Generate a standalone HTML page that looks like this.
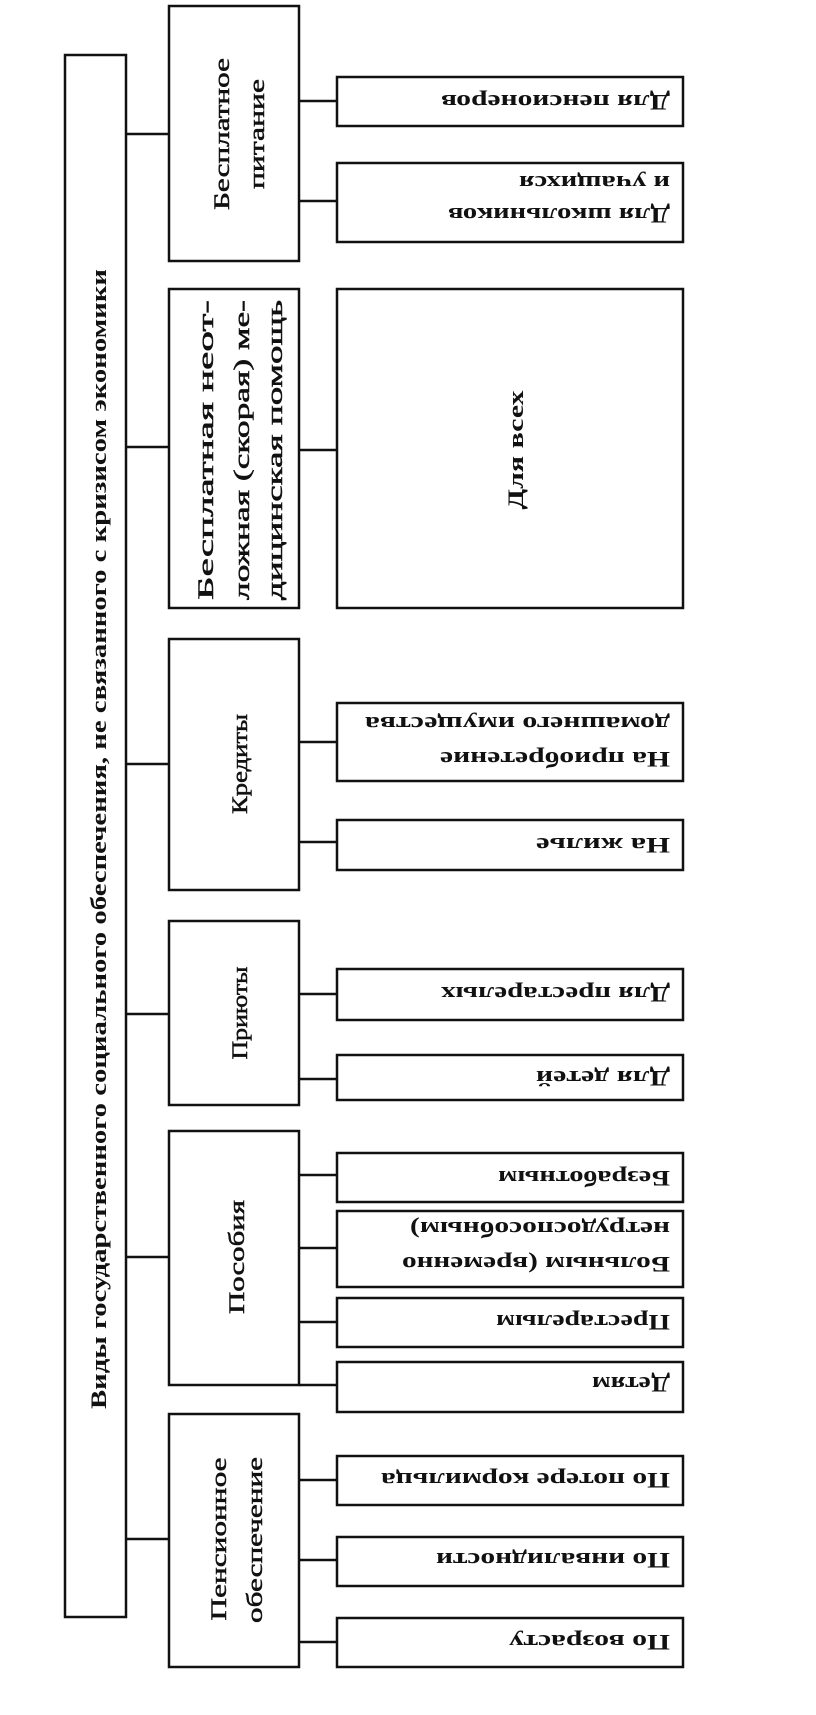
<!DOCTYPE html>
<html><head><meta charset="utf-8"><style>
html,body{margin:0;padding:0;background:#fff;}
svg{display:block;}
text{font-family:"Liberation Serif",serif;fill:#111;}
.b{font-weight:bold;font-size:22px;}
.n{font-size:22px;stroke:#111;stroke-width:0.5;}
</style></head><body>
<svg width="816" height="1715" viewBox="0 0 816 1715" xmlns="http://www.w3.org/2000/svg">
<g fill="none" stroke="#111" stroke-width="2.5">
<rect x="65" y="55" width="61" height="1562"/>
<rect x="169" y="6" width="130" height="255"/>
<rect x="169" y="289" width="130" height="319"/>
<rect x="169" y="639" width="130" height="251"/>
<rect x="169" y="921" width="130" height="184"/>
<rect x="169" y="1131" width="130" height="254"/>
<rect x="169" y="1414" width="130" height="253"/>
<line x1="126" y1="134" x2="169" y2="134"/>
<line x1="126" y1="447" x2="169" y2="447"/>
<line x1="126" y1="764" x2="169" y2="764"/>
<line x1="126" y1="1014" x2="169" y2="1014"/>
<line x1="126" y1="1257" x2="169" y2="1257"/>
<line x1="126" y1="1539" x2="169" y2="1539"/>
<rect x="337" y="77" width="346" height="49"/>
<rect x="337" y="163" width="346" height="79"/>
<rect x="337" y="289" width="346" height="319"/>
<rect x="337" y="703" width="346" height="78"/>
<rect x="337" y="820" width="346" height="50"/>
<rect x="337" y="969" width="346" height="51"/>
<rect x="337" y="1055" width="346" height="45"/>
<rect x="337" y="1153" width="346" height="49"/>
<rect x="337" y="1211" width="346" height="76"/>
<rect x="337" y="1298" width="346" height="49"/>
<rect x="337" y="1362" width="346" height="50"/>
<rect x="337" y="1456" width="346" height="49"/>
<rect x="337" y="1537" width="346" height="49"/>
<rect x="337" y="1618" width="346" height="49"/>
<line x1="299" y1="101" x2="337" y2="101"/>
<line x1="299" y1="201" x2="337" y2="201"/>
<line x1="299" y1="450" x2="337" y2="450"/>
<line x1="299" y1="742" x2="337" y2="742"/>
<line x1="299" y1="842" x2="337" y2="842"/>
<line x1="299" y1="994" x2="337" y2="994"/>
<line x1="299" y1="1079" x2="337" y2="1079"/>
<line x1="299" y1="1175" x2="337" y2="1175"/>
<line x1="299" y1="1248" x2="337" y2="1248"/>
<line x1="299" y1="1322" x2="337" y2="1322"/>
<line x1="299" y1="1385" x2="337" y2="1385"/>
<line x1="299" y1="1480" x2="337" y2="1480"/>
<line x1="299" y1="1560" x2="337" y2="1560"/>
<line x1="299" y1="1642" x2="337" y2="1642"/>
</g>

<text class="b" transform="translate(106,839) rotate(-90)" text-anchor="middle" textLength="1140" lengthAdjust="spacingAndGlyphs">Виды государственного социального обеспечения, не связанного с кризисом экономики</text>

<text class="n" transform="translate(229,134) rotate(-90)" text-anchor="middle" textLength="152" lengthAdjust="spacingAndGlyphs">Бесплатное</text>
<text class="n" transform="translate(264,134) rotate(-90)" text-anchor="middle" textLength="110" lengthAdjust="spacingAndGlyphs">питание</text>

<text class="n" transform="translate(213,450) rotate(-90)" text-anchor="middle" textLength="300" lengthAdjust="spacingAndGlyphs">Бесплатная неот-</text>
<text class="n" transform="translate(249,450) rotate(-90)" text-anchor="middle" textLength="300" lengthAdjust="spacingAndGlyphs">ложная (скорая) ме-</text>
<text class="n" transform="translate(282,450) rotate(-90)" text-anchor="middle" textLength="300" lengthAdjust="spacingAndGlyphs">дицинская помощь</text>

<text class="n" transform="translate(247,764) rotate(-90)" text-anchor="middle" textLength="100" lengthAdjust="spacingAndGlyphs">Кредиты</text>
<text class="n" transform="translate(247,1013) rotate(-90)" text-anchor="middle" textLength="93" lengthAdjust="spacingAndGlyphs">Приюты</text>
<text class="n" transform="translate(244,1257) rotate(-90)" text-anchor="middle" textLength="114" lengthAdjust="spacingAndGlyphs">Пособия</text>
<text class="n" transform="translate(226,1539) rotate(-90)" text-anchor="middle" textLength="163" lengthAdjust="spacingAndGlyphs">Пенсионное</text>
<text class="n" transform="translate(262,1540) rotate(-90)" text-anchor="middle" textLength="166" lengthAdjust="spacingAndGlyphs">обеспечение</text>

<text class="b" transform="translate(523,450) rotate(-90)" text-anchor="middle" textLength="119" lengthAdjust="spacingAndGlyphs">Для всех</text>

<text class="b" transform="translate(670,95) rotate(180)" textLength="229" lengthAdjust="spacingAndGlyphs">Для пенсионеров</text>
<text class="b" transform="translate(670,208) rotate(180)" textLength="222" lengthAdjust="spacingAndGlyphs">Для школьников</text>
<text class="b" transform="translate(670,176) rotate(180)" textLength="151" lengthAdjust="spacingAndGlyphs">и учащихся</text>
<text class="b" transform="translate(670,752) rotate(180)" textLength="230" lengthAdjust="spacingAndGlyphs">На приобретение</text>
<text class="b" transform="translate(670,717) rotate(180)" textLength="305" lengthAdjust="spacingAndGlyphs">домашнего имущества</text>
<text class="b" transform="translate(670,838) rotate(180)" textLength="134" lengthAdjust="spacingAndGlyphs">На жилье</text>
<text class="b" transform="translate(670,987) rotate(180)" textLength="229" lengthAdjust="spacingAndGlyphs">Для престарелых</text>
<text class="b" transform="translate(670,1071) rotate(180)" textLength="134" lengthAdjust="spacingAndGlyphs">Для детей</text>
<text class="b" transform="translate(670,1171) rotate(180)" textLength="172" lengthAdjust="spacingAndGlyphs">Безработным</text>
<text class="b" transform="translate(670,1257) rotate(180)" textLength="268" lengthAdjust="spacingAndGlyphs">Больным (временно</text>
<text class="b" transform="translate(670,1222) rotate(180)" textLength="260" lengthAdjust="spacingAndGlyphs">нетрудоспособным)</text>
<text class="b" transform="translate(670,1315) rotate(180)" textLength="174" lengthAdjust="spacingAndGlyphs">Престарелым</text>
<text class="b" transform="translate(670,1377) rotate(180)" textLength="78" lengthAdjust="spacingAndGlyphs">Детям</text>
<text class="b" transform="translate(670,1473) rotate(180)" textLength="289" lengthAdjust="spacingAndGlyphs">По потере кормильца</text>
<text class="b" transform="translate(670,1553) rotate(180)" textLength="234" lengthAdjust="spacingAndGlyphs">По инвалидности</text>
<text class="b" transform="translate(670,1635) rotate(180)" textLength="161" lengthAdjust="spacingAndGlyphs">По возрасту</text>
</svg>
</body></html>
